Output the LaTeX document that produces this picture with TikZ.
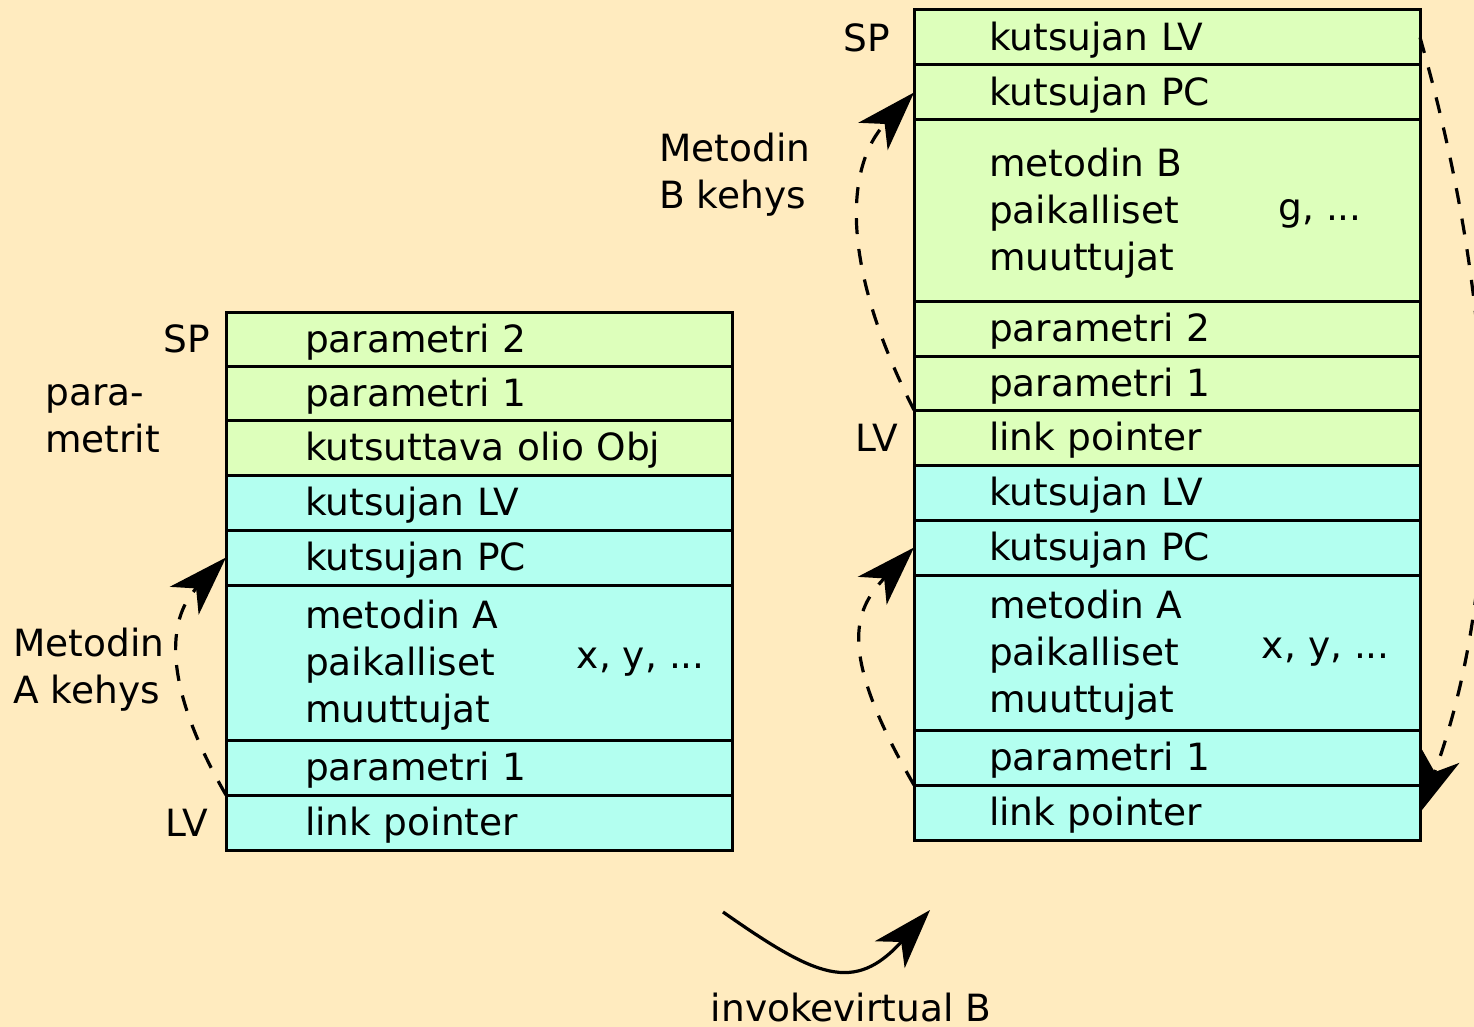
\documentclass[tikz,border=0pt]{standalone}
\usepackage{fontspec}
\setmainfont{DejaVu Sans}
\usetikzlibrary{arrows.meta,positioning}
\definecolor{bgcol}{RGB}{255,235,191}
\definecolor{parcol}{RGB}{221,255,187}
\definecolor{frmcol}{RGB}{179,255,240}

\begin{document}
\begin{tikzpicture}[
      x=1pt,
      y=1pt,
      font=\fontsize{37.5}{47}\selectfont,
      cell/.style={draw, line width=3pt, anchor=north west, outer sep=0pt, inner ysep=0pt, align=left, minimum width=506pt, text height=34pt},
      leftcell/.style={cell, text width=348pt, inner xsep=79pt},
      rightcell/.style={cell, text width=356pt, inner xsep=75pt},
      par/.style={fill=parcol},
      frm/.style={fill=frmcol},
      lbl/.style={inner sep=0pt, align=left},
      tip/.style={-{Stealth[length=60pt,width=40pt,inset=17pt]}},
      link/.style={tip, line width=3.2pt, dash pattern=on 16pt off 15pt},
      call/.style={tip, line width=3.2pt}
  ]
  % Page: 1474 x 1027, y grows downwards as negative numbers
  \useasboundingbox[fill=bgcol] (0,0) rectangle (1474,-1027);

  % --- Stack before the call (method A running) ---
  \node[leftcell, par, minimum height=54pt]  (aPar2) at (226,-312) {parametri 2};
  \node[leftcell, par, minimum height=54pt]  (aPar1) at (226,-366) {parametri 1};
  \node[leftcell, par, minimum height=55pt]  (aObj)  at (226,-420) {\mbox{kutsuttava olio Obj}};
  \node[leftcell, frm, minimum height=55pt]  (aLV)   at (226,-475) {kutsujan LV};
  \node[leftcell, frm, minimum height=55pt]  (aPC)   at (226,-530) {kutsujan PC};
  \node[leftcell, frm, minimum height=155pt] (aLoc)  at (226,-585) {metodin A\\paikalliset\\muuttujat};
  \node[leftcell, frm, minimum height=55pt]  (aArg)  at (226,-740) {parametri 1};
  \node[leftcell, frm, minimum height=55pt]  (aLink) at (226,-795) {link pointer};

  \node[lbl, anchor=east] (aVars) at ([xshift=-27pt]aLoc.east) {x, y, ...};
  \node[lbl, left=16pt of aPar2] (aSP) {SP};
  \node[lbl, left=18pt of aLink] (aLVlbl) {LV};
  \node[lbl, anchor=west] (aParams) at (45,-419) {para-\\metrit};
  \node[lbl, anchor=west] (aFrame)  at (13,-670) {Metodin\\A kehys};

  % --- Stack after invokevirtual (method B frame on top) ---
  \node[rightcell, par, minimum height=55pt]  (bLV)   at (914,-10)  {kutsujan LV};
  \node[rightcell, par, minimum height=55pt]  (bPC)   at (914,-65)  {kutsujan PC};
  \node[rightcell, par, minimum height=181pt] (bLoc)  at (914,-120) {metodin B\\paikalliset\\muuttujat};
  \node[rightcell, par, minimum height=55pt]  (bPar2) at (914,-301) {parametri 2};
  \node[rightcell, par, minimum height=54pt]  (bPar1) at (914,-356) {parametri 1};
  \node[rightcell, par, minimum height=55pt]  (bLink) at (914,-410) {link pointer};
  \node[rightcell, frm, minimum height=55pt]  (cLV)   at (914,-465) {kutsujan LV};
  \node[rightcell, frm, minimum height=55pt]  (cPC)   at (914,-520) {kutsujan PC};
  \node[rightcell, frm, minimum height=155pt] (cLoc)  at (914,-575) {metodin A\\paikalliset\\muuttujat};
  \node[rightcell, frm, minimum height=55pt]  (cArg)  at (914,-730) {parametri 1};
  \node[rightcell, frm, minimum height=55pt]  (cLink) at (914,-785) {link pointer};

  \node[lbl, anchor=east] (bVars) at ([xshift=-58pt,yshift=-3pt]bLoc.east) {g, ...};
  \node[lbl, anchor=east] (cVars) at ([xshift=-30pt]cLoc.east) {x, y, ...};
  \node[lbl, left=24pt of bLV] (bSP) {SP};
  \node[lbl, left=16pt of bLink] (bLVlbl) {LV};
  \node[lbl, anchor=west] (bFrame) at (659,-175) {Metodin\\B kehys};

  % --- Link pointers ---
  \draw[link] (aLink.north west) to[out=120, in=226, out looseness=1.5, in looseness=0.85] (aPC.west);
  \draw[link] (bLink.north west) to[out=117, in=227, out looseness=1.35, in looseness=0.8] (bPC.west);
  \draw[link] (cLink.north west) to[out=120, in=226, out looseness=1.65, in looseness=0.95] (cPC.west);
  \draw[link] (bLV.east) to[out=-74, in=70, looseness=0.88] (cLink.east);

  % --- The call itself ---
  \coordinate (invFrom) at (723,-912);
  \coordinate (invTo)   at (930,-910);
  \draw[call] (invFrom) to[out=-35, in=228, looseness=1.4] (invTo);
  \node[lbl, anchor=base] (inv) at (851,-1021) {invokevirtual B};

  \end{tikzpicture}
\end{document}
